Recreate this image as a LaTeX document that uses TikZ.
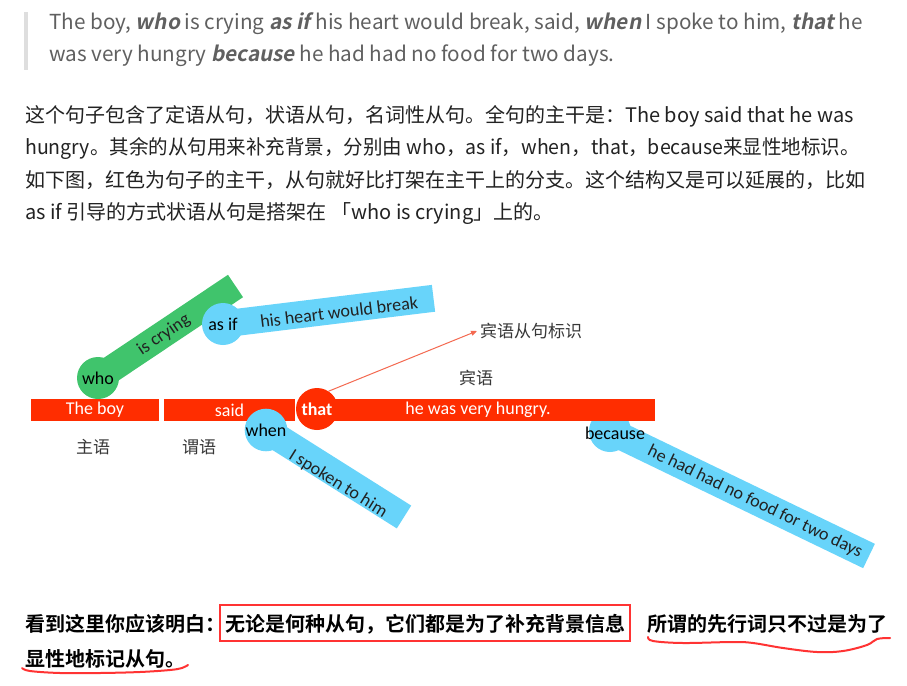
\documentclass[tikz,border=0pt]{standalone}
\usepackage{fontspec}
\setmainfont{Noto Sans CJK SC}[BoldFont={Noto Sans CJK SC Bold}, ItalicFont={Noto Sans CJK SC}, ItalicFeatures={FakeSlant=0.2}, BoldItalicFont={Noto Sans CJK SC Bold}, BoldItalicFeatures={FakeSlant=0.2}]
\newfontfamily\calfont{Carlito}
\usetikzlibrary{arrows.meta}
\definecolor{barred}{RGB}{255,45,0}
\definecolor{brgreen}{RGB}{64,196,108}
\definecolor{brblue}{RGB}{104,212,250}
\definecolor{quotegrey}{RGB}{96,96,96}
\definecolor{bodytext}{RGB}{34,34,34}
\definecolor{markred}{RGB}{255,51,51}
\definecolor{arrowred}{RGB}{244,105,80}
\newcommand{\bi}[1]{\textbf{\textit{#1}}}
\begin{document}
\begin{tikzpicture}[x=1pt,y=-1pt,
  quote/.style={anchor=base west,inner sep=0pt,text=quotegrey,font=\fontsize{20.7}{24}\selectfont},
  body/.style={anchor=base west,inner sep=0pt,text=bodytext,font=\fontsize{20}{24}\selectfont},
  boldline/.style={anchor=base west,inner sep=0pt,text=black,font=\fontsize{20}{24}\selectfont\bfseries},
  redbar/.style={fill=barred,draw=none,inner sep=0pt,minimum height=22pt,text=white,font=\calfont\fontsize{18}{18}\selectfont},
  gbar/.style={line width=27pt,brgreen},
  bbar/.style={line width=27pt,brblue},
  knot/.style={circle,inner sep=0pt,minimum size=42pt,draw=none,text=black,font=\calfont\fontsize{18}{18}\selectfont},
  blabel/.style={inner sep=0pt,text=bodytext,font=\calfont\fontsize{18}{18}\selectfont},
  cnlabel/.style={inner sep=0pt,text=bodytext!90,font=\fontsize{17}{17}\selectfont},
  wavy/.style={markred,line width=2pt,line cap=round,line join=round}]
\useasboundingbox (0,0) rectangle (907,685);
\fill[white] (0,0) rectangle (907,685);

% quote
\fill[black!13] (24,12) rectangle (28,70);
\node[quote] (q1) at (49,30) {The boy, \bi{who} is crying \bi{as if} his heart would break, said, \bi{when} I spoke to him, \bi{that} he};
\node[quote] (q2) at (49,62) {was very hungry \bi{because} he had had no food for two days.};

% paragraph
\node[body] (p1) at (25,122) {这个句子包含了定语从句，状语从句，名词性从句。全句的主干是：The boy said that he was};
\node[body] (p2) at (25,154) {\scalebox{0.976}[1]{hungry。其余的从句用来补充背景，分别由 who，as if，when，that，because来显性地标识。}};
\node[body] (p3) at (25,187) {如下图，红色为句子的主干，从句就好比打架在主干上的分支。这个结构又是可以延展的，比如};
\node[body] (p4) at (25,219) {as if 引导的方式状语从句是搭架在 「who is crying」上的。};

% diagram coordinates
\coordinate (whoC) at (98,378);
\coordinate (whoE) at (235.5,286);
\coordinate (asifC) at (223,324);
\coordinate (asifE) at (433.5,298.3);
\coordinate (whenC) at (266,430);
\coordinate (whenE) at (404,517);
\coordinate (becC) at (610,431);
\coordinate (becE) at (869,556);

% who branch
\draw[gbar] (whoC) -- (whoE);
\node[knot,fill=brgreen] (who) at (whoC) {who};
\node[blabel,rotate=34] (crying) at (164,335) {is crying};

% as if branch
\draw[bbar] (asifC) -- (asifE);
\node[knot,fill=brblue] (asif) at (asifC) {as if};
\node[blabel,rotate=7] (heart) at (339,312) {his heart would break};

% because branch (below main bar)
\draw[bbar] (becC) -- (becE);
\node[knot,fill=brblue] (because) at (becC) {};

% main trunk
\node[redbar,minimum width=128pt] (boy) at (95,410) {The boy};
\node[redbar,minimum width=131pt] (said) at (229.5,410) {said};
\node[redbar,minimum width=338pt] (hungry) at (486,410) {};
\node[inner sep=0pt,text=white,font=\calfont\fontsize{18}{18}\selectfont] (hungrytxt) at (478,410) {he was very hungry.};
\node[knot,fill=barred,text=white,font=\calfont\bfseries\fontsize{18}{18}\selectfont] (that) at (317,409) {that};

\node[blabel,text=black] (becausetxt) at (615,433) {because};
\node[blabel,rotate=-25.8] (food) at (755,502) {he had had no food for two days};

% when branch
\draw[bbar] (whenC) -- (whenE);
\node[knot,fill=brblue] (when) at (whenC) {when};
\node[blabel,rotate=-32] (spoke) at (338,484) {I spoken to him};

% labels
\node[cnlabel] (subj) at (93,447) {主语};
\node[cnlabel] (pred) at (199,447) {谓语};
\node[cnlabel] (obj) at (476,378) {宾语};
\node[cnlabel,anchor=west] (objmark) at (480,331) {宾语从句标识};
\draw[arrowred,line width=1pt,-{Triangle[length=6pt,width=5pt]}] (that.57) -- ([xshift=-3pt]objmark.west);

% bottom
\node[boldline] (b1) at (25,631) {看到这里你应该明白：};
\node[boldline] (b2) at (225,631) {无论是何种从句，它们都是为了补充背景信息};
\node[boldline] (b3) at (647,631) {所谓的先行词只不过是为了};
\node[boldline] (b4) at (25,666) {显性地标记从句。};
\draw[markred,line width=2.5pt] (220,605) rectangle (630,641);
\draw[wavy] plot[smooth,tension=0.6] coordinates {(648,637) (653,641) (683,643) (733,642) (753,643) (783,648) (817,652) (843,651) (867,645) (877,639) (890,638)};
\draw[wavy] plot[smooth,tension=0.6] coordinates {(22,668) (30,671) (60,673) (100,673) (140,672) (170,670) (182,668) (188,665)};
\end{tikzpicture}
\end{document}
